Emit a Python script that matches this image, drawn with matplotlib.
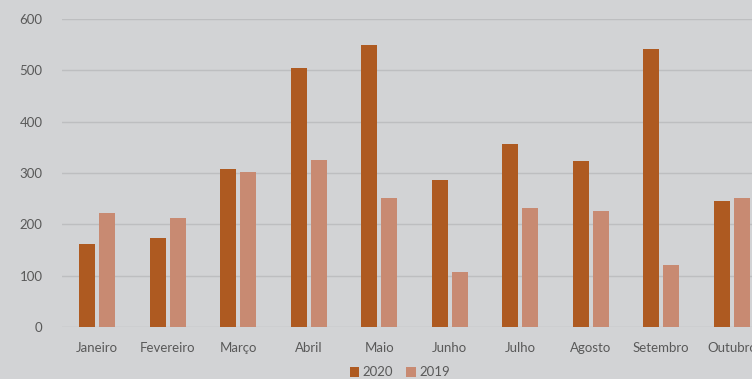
import matplotlib
matplotlib.use("Agg")
import matplotlib.pyplot as plt
import numpy as np

months = ["Janeiro", "Fevereiro", "Março", "Abril", "Maio", "Junho",
          "Julho", "Agosto", "Setembro", "Outubro"]
v2020 = [162, 173, 308, 505, 549, 286, 356, 323, 541, 245]
v2019 = [222, 212, 302, 325, 251, 107, 232, 226, 121, 251]
yticks = [0, 100, 200, 300, 400, 500, 600]

bg = "#D2D3D5"
c2020 = "#AE5A21"
c2019 = "#C88A72"
txt = "#595959"
grid = "#BDBEC0"

plt.rcParams['font.family'] = ['Lato', 'DejaVu Sans']

fig = plt.figure(figsize=(7.52, 3.79), dpi=100, facecolor=bg)
ax = fig.add_axes([62/752, 52/379, 690/752, (327-19)/379])
ax.set_facecolor(bg)

x = np.arange(len(months))
w = 0.227
off = 0.145
ax.bar(x - off, v2020, w, color=c2020, label="2020", zorder=3)
ax.bar(x + off, v2019, w, color=c2019, label="2019", zorder=3)

ax.set_xlim(-0.5, -0.5 + 690/70.5)
ax.set_ylim(0, 600)
ax.set_yticks(yticks)
ax.set_yticklabels([str(t) for t in yticks])
ax.set_xticks(x)
ax.set_xticklabels(months)
ax.tick_params(axis='both', length=0, colors=txt, labelsize=9.5)
ax.tick_params(axis='y', pad=14)
ax.tick_params(axis='x', pad=11)
ax.yaxis.grid(True, color=grid, linewidth=1, zorder=0)
for s in ax.spines.values():
    s.set_visible(False)

leg = fig.legend(loc="center", bbox_to_anchor=(400/752, 1 - 372.5/379), ncol=2,
                 frameon=False, fontsize=9.5, handlelength=0.7, handleheight=0.7,
                 columnspacing=1.0, handletextpad=0.3, labelcolor=txt,
                 borderpad=0.1)

fig.savefig("out.png", dpi=100, facecolor=bg)
